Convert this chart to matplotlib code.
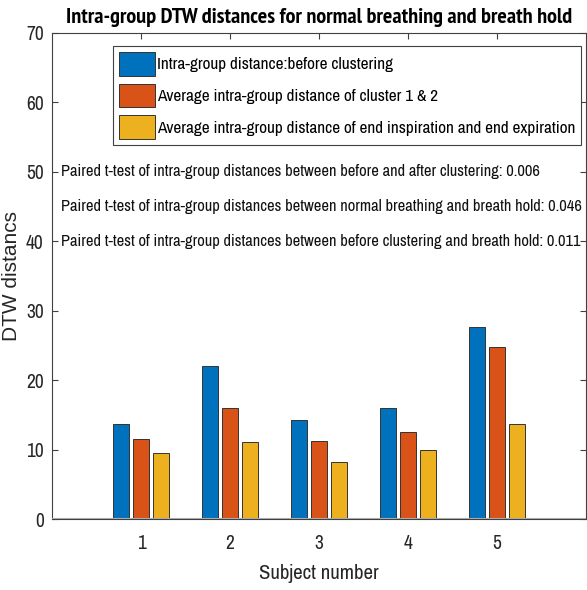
import numpy as np
import matplotlib
matplotlib.use("Agg")
import matplotlib.pyplot as plt
from matplotlib import font_manager

# data
subjects = [1, 2, 3, 4, 5]
before_clustering = [13.65, 22.0, 14.2, 16.0, 27.7]
cluster_avg = [11.5, 16.0, 11.3, 12.6, 24.8]
end_insp_exp = [9.45, 11.15, 8.15, 9.95, 13.75]
series_labels = ["Intra-group distance:before clustering",
                 "Average intra-group distance of cluster 1 & 2",
                 "Average intra-group distance of end inspiration and end expiration"]
ttest_notes = ["Paired t-test of intra-group distances between before and after clustering: 0.006",
               "Paired t-test of intra-group distances between normal breathing and breath hold: 0.046",
               "Paired t-test of intra-group distances between before clustering and breath hold: 0.011"]
ttest_y = [50, 45, 40]

colors = ["#0072BD", "#D95319", "#EDB120"]

# pick a narrow font like Arial Narrow, prefer one that has a bold face
cands = ["Liberation Sans Narrow", "Arimo Narrow", "Archivo Narrow", "PT Sans Narrow",
         "Roboto Condensed", "Pragati Narrow", "Encode Sans Condensed", "Open Sans Condensed"]
weights = {}
for f in font_manager.fontManager.ttflist:
    w = f.weight if isinstance(f.weight, int) else 400
    weights.setdefault(f.name, set()).add(w)
narrow = next((c for c in cands if c in weights), "DejaVu Sans")
narrow_bold = next((c for c in cands if c in weights and max(weights[c]) >= 600), narrow)
plt.rcParams["font.family"] = [narrow, "DejaVu Sans"]

fig = plt.figure(figsize=(5.87, 5.90), dpi=100)
ax = fig.add_axes([0.0886, 0.1203, 0.91, 0.824])

x = np.array(subjects, dtype=float)
step = 0.222
width = 0.178
all_series = [before_clustering, cluster_avg, end_insp_exp]
for i, vals in enumerate(all_series):
    ax.bar(x + (i - 1) * step, vals, width, color=colors[i],
           edgecolor="#333333", linewidth=0.7, label=series_labels[i], zorder=2)

ax.axhline(0, color="#aaaaaa", linewidth=1.5, zorder=3)

ax.set_xlim(0, 6)
ax.set_ylim(0, 70)
ax.set_xticks(subjects)
ax.set_yticks(np.arange(0, 71, 10))
ax.tick_params(direction="in", top=True, right=True, length=4, width=0.8,
               color="#404040", labelsize=14, labelcolor="#262626")
ax.tick_params(axis="x", pad=11)
ax.tick_params(axis="y", pad=6)
for sp in ax.spines.values():
    sp.set_color("#404040")
    sp.set_linewidth(0.8)

for txt, yy in zip(ttest_notes, ttest_y):
    ax.text(0.1, yy, txt, fontsize=11.9, va="center", ha="left", color="#111111")

ax.set_title("Intra-group DTW distances for normal breathing and breath hold",
             fontsize=16, fontweight="bold", family=[narrow_bold, "DejaVu Sans"], pad=7)
ax.set_xlabel("Subject number", fontsize=15, color="#262626")
ax.xaxis.set_label_coords(0.5, -0.093)
ax.set_ylabel("DTW distancs", fontsize=15, family=["Liberation Sans", "DejaVu Sans"],
              color="#262626")
ax.yaxis.set_label_coords(-0.058, 0.5)

leg = ax.legend(loc="upper left", bbox_to_anchor=(0.114, 0.973), fontsize=12.4,
                handlelength=2.1, handleheight=1.75, labelspacing=0.45,
                handletextpad=0.1, borderpad=0.35, borderaxespad=0,
                fancybox=False, framealpha=1)
leg.get_frame().set_edgecolor("#404040")
leg.get_frame().set_linewidth(0.8)

fig.savefig("out.png", dpi=100)
